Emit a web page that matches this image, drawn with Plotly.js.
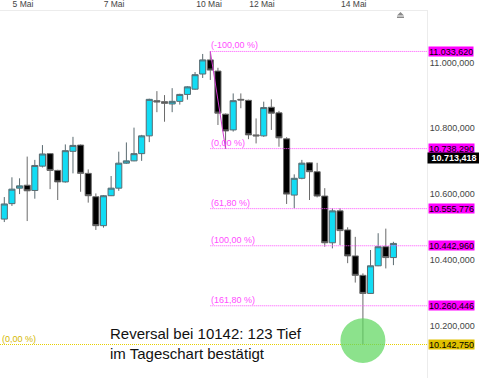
<!DOCTYPE html>
<html>
<head>
<meta charset="utf-8">
<script src="https://cdn.plot.ly/plotly-3.0.1.min.js"></script>
<style>html,body{margin:0;padding:0;background:#fff;}#chart{width:479px;height:378px;}</style>
</head>
<body>
<div id="chart"></div>
<script>
// ---- data ----
const openP  = [10524,10571,10618,10627,10611,10685,10723,10672,10637,10730,10749,10663,10592,10504,10595,10618,10694,10701,10723,10777,10884,10881,10874,10882,10903,10919,10965,11008,10974,10843,10795,10888,10885,10780,10777,10864,10847,10768,10597,10648,10695,10668,10594,10452,10549,10491,10412,10353,10298,10382,10440,10407];
const highP  = [10591,10651,10648,10714,10704,10749,10725,10674,10751,10774,10751,10675,10602,10597,10655,10729,10757,10802,10780,10890,10913,10901,10922,10905,10928,10971,11026,11033.62,10984,10845,10906,10906,10887,10830,10881,10888,10853,10773,10660,10704,10697,10695,10618,10557,10557,10499,10470,10359,10430,10481,10495,10455];
const lowP   = [10515,10564,10600,10518,10586,10681,10615,10582,10635,10663,10607,10574,10491,10498,10594,10610,10692,10700,10701,10758,10849,10820,10849,10872,10887,10917,10953,10947,10810,10738.29,10790,10861,10767,10754,10774,10795,10744,10570,10557,10645,10582,10590,10440,10435,10445,10390,10331,10142.75,10297,10381,10374,10384];
const closeP = [10570,10615,10625,10610,10687,10722,10672,10637,10732,10748,10663,10595,10504,10595,10618,10694,10701,10723,10777,10888,10880,10876,10882,10903,10926,10963,11008,10977,10846,10792,10884,10886,10780,10777,10863,10846,10771,10600,10648,10694,10668,10594,10452,10549,10489,10412,10353,10298,10382,10440,10407,10450];

const dateTickPos    = [3.45, 15.38, 27.83, 34.77, 46.8];
const dateTickLabels = ["5 Mai", "7 Mai", "10 Mai", "12 Mai", "14 Mai"];

const priceTicks      = [10200, 10400, 10600, 10800, 11000];
const priceTickLabels = ["10.200,000", "10.400,000", "10.600,000", "10.800,000", "11.000,000"];

const fibLevels = [11033.62, 10738.29, 10555.776, 10442.96, 10260.446];
const fibNames  = ["(-100,00 %)", "(0,00 %)", "(61,80 %)", "(100,00 %)", "(161,80 %)"];
const fibValueLabels = ["11.033,620", "10.738,290", "10.555,776", "10.442,960", "10.260,446"];
const fibStartCandle = 28;
const fibEndCandle = 30;

const baseLevel = 10142.75;
const baseName = "(0,00 %)";
const baseValueLabel = "10.142,750";

const lastPrice = 10713.418;
const lastPriceLabel = "10.713,418";

const noteText = "Reversal bei 10142: 123 Tief<br>im Tageschart bestätigt";

// ---- build ----
const xIdx = openP.map((_, i) => i + 1);
const xRange = [0.436, 56.4];
const yRange = [10040.9, 11156.6];
const FONT = 'Arial, Liberation Sans, sans-serif';

const candle = {
  type: 'candlestick',
  x: xIdx, open: openP, high: highP, low: lowP, close: closeP,
  increasing: {fillcolor: '#12dcf4', line: {color: '#5a6a70', width: 1}},
  decreasing: {fillcolor: '#000000', line: {color: '#6a6a6a', width: 1}},
  whiskerwidth: 0,
  hoverinfo: 'skip',
  showlegend: false
};

const shapes = [];
const annotations = [];
const fibColor = '#ff4dff';

fibLevels.forEach((lv, i) => {
  shapes.push({type: 'line', xref: 'x', yref: 'y', x0: fibStartCandle, x1: xRange[1], y0: lv, y1: lv,
    line: {color: fibColor, width: 1, dash: '1px,1px'}});
  annotations.push({xref: 'x', yref: 'y', x: fibStartCandle, y: lv, xanchor: 'left', yanchor: 'bottom',
    text: fibNames[i], showarrow: false, font: {family: FONT, size: 9, color: fibColor},
    borderpad: 0});
  annotations.push({xref: 'paper', yref: 'y', x: 1, y: lv, xanchor: 'left', yanchor: 'middle',
    text: fibValueLabels[i], showarrow: false, bgcolor: '#ff00ff', borderpad: 0, xshift: 1, height: 9,
    font: {family: FONT, size: 9, color: '#000'}});
});

// trend line of the fib tool
shapes.push({type: 'line', xref: 'x', yref: 'y', x0: fibStartCandle, x1: fibEndCandle,
  y0: fibLevels[0], y1: fibLevels[1], line: {color: '#d23cd2', width: 1}});

// base (yellow) level
shapes.push({type: 'line', xref: 'paper', yref: 'y', x0: 0, x1: 1, y0: baseLevel, y1: baseLevel,
  line: {color: '#e6cf00', width: 1, dash: '1px,1px'}});
annotations.push({xref: 'paper', yref: 'y', x: 0, y: baseLevel, xanchor: 'left', yanchor: 'bottom',
  text: baseName, showarrow: false, xshift: 1, borderpad: 0,
  font: {family: FONT, size: 9, color: '#d4b800'}});
annotations.push({xref: 'paper', yref: 'y', x: 1, y: baseLevel, xanchor: 'left', yanchor: 'middle',
  text: baseValueLabel, showarrow: false, bgcolor: '#e0c000', borderpad: 0, xshift: 1, height: 9,
  font: {family: FONT, size: 9, color: '#000'}});

// last price box
annotations.push({xref: 'paper', yref: 'y', x: 1, y: lastPrice, xanchor: 'left', yanchor: 'middle',
  text: '<b>' + lastPriceLabel + '</b>', showarrow: false, bgcolor: '#000', borderpad: 0, width: 52, height: 10,
  yshift: -1.5, font: {family: FONT, size: 9, color: '#fff'}});

// green circle at the reversal low
let minI = 0;
lowP.forEach((v, i) => { if (v < lowP[minI]) minI = i; });
const cx = xIdx[minI], cy = lowP[minI] + 12;
shapes.push({type: 'circle', xref: 'x', yref: 'y', x0: cx - 2.95, x1: cx + 2.95, y0: cy - 68, y1: cy + 68,
  fillcolor: 'rgba(95,215,95,0.72)', line: {width: 0}});

// small home icon at top right
shapes.push({type: 'path', xref: 'paper', yref: 'paper',
  path: 'M 0.9379 0.9975 L 0.9297 0.9877 L 0.9461 0.9877 Z M 0.9297 0.9850 L 0.9461 0.9850 L 0.9461 0.9809 L 0.9297 0.9809 Z',
  fillcolor: '#8a8a8a', line: {width: 0}});

// note
annotations.push({xref: 'paper', yref: 'paper', x: 108 / 427, y: 1 - (343 - 11) / 367, xanchor: 'left', yanchor: 'middle',
  align: 'left', text: noteText, showarrow: false,
  font: {family: FONT, size: 15, color: '#111'}});

const layout = {
  width: 479, height: 378,
  margin: {l: 0, r: 52, t: 11, b: 0, pad: 0},
  paper_bgcolor: '#fff', plot_bgcolor: '#fff',
  showlegend: false,
  font: {family: FONT},
  xaxis: {range: xRange, side: 'top', tickmode: 'array', tickvals: dateTickPos, ticktext: dateTickLabels,
    showgrid: false, zeroline: false, showline: true, linecolor: '#ececec', ticks: '',
    tickfont: {size: 8.5, color: '#444'}, rangeslider: {visible: false}, fixedrange: true},
  yaxis: {range: yRange, side: 'right', tickmode: 'array', tickvals: priceTicks, ticktext: priceTickLabels,
    showgrid: false, zeroline: false, showline: true, linecolor: '#ececec', ticks: '',
    tickfont: {size: 9, color: '#444'}, fixedrange: true},
  shapes: shapes,
  annotations: annotations,
  boxgap: 0.2, boxgroupgap: 0
};

Plotly.newPlot('chart', [candle], layout, {displayModeBar: false, staticPlot: true});
</script>
</body>
</html>
